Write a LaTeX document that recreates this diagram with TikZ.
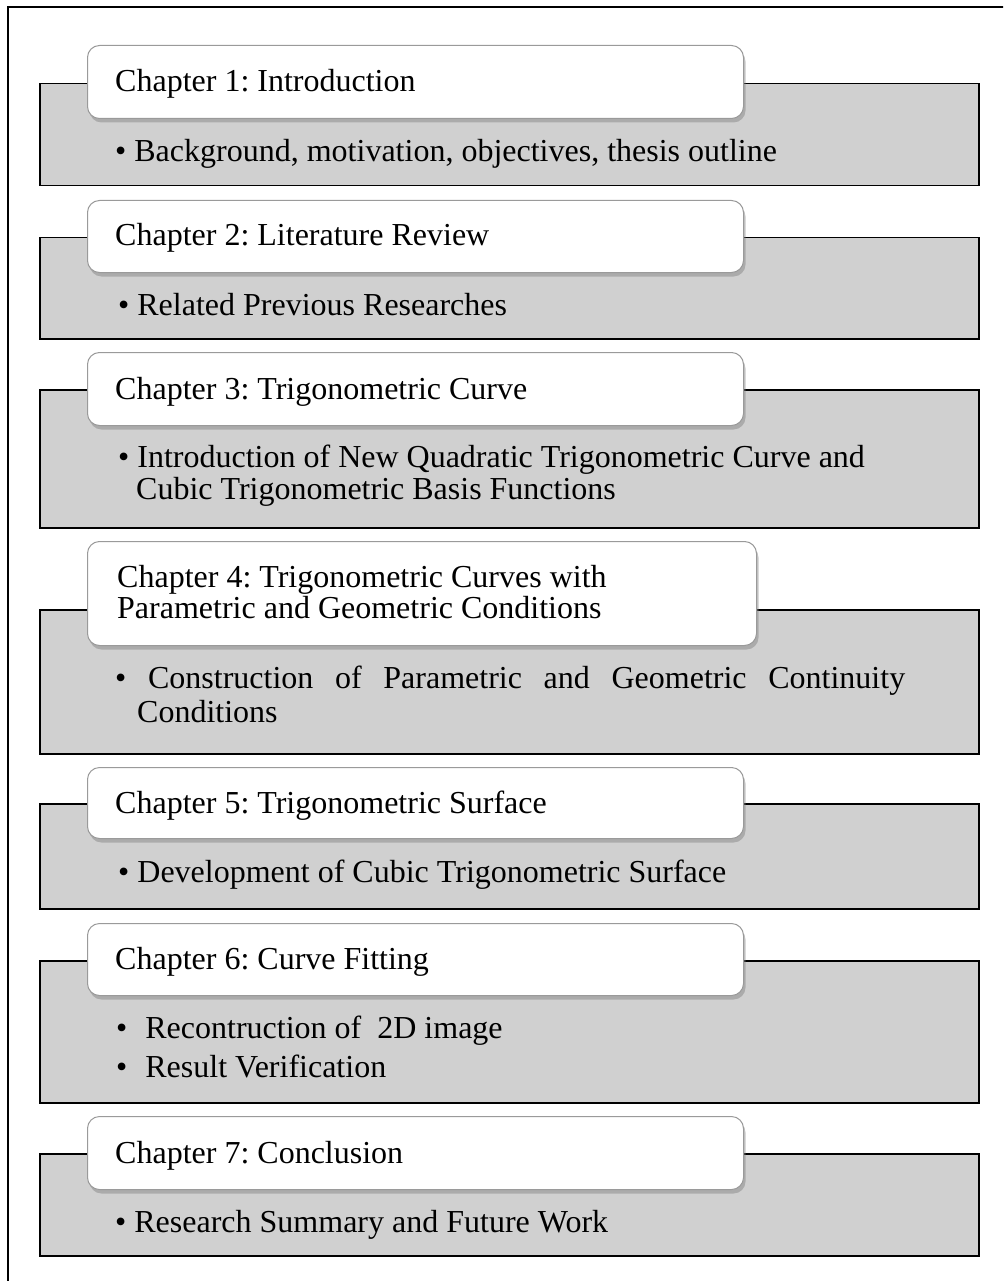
\documentclass[tikz,border=0pt]{standalone}
\usepackage{fontspec}
\setmainfont{Liberation Serif}
\usetikzlibrary{shadows}
\definecolor{boxgray}{HTML}{D0D0D0}
\definecolor{edgegray}{HTML}{9A9A9A}
\frenchspacing
\begin{document}
\begin{tikzpicture}[x=1pt, y=-1pt]
    \useasboundingbox (0,0) rectangle (1003,1281);
    \clip (0,0) rectangle (1003,1281);
    \draw [line width=2pt] (1020,7) -- (8,7) -- (8,1300);

    \begin{scope}[every node/.style={rectangle, fill=boxgray, draw=black, line width=1.5pt, anchor=north west, minimum width=939pt, inner sep=0pt}]
        \node (b1) at (39,83) [minimum height=102pt] {};
        \node (b2) at (39,237) [minimum height=101pt] {};
        \node (b3) at (39,389) [minimum height=138pt] {};
        \node (b4) at (39,609) [minimum height=144pt] {};
        \node (b5) at (39,803) [minimum height=105pt] {};
        \node (b6) at (39,960) [minimum height=142pt] {};
        \node (b7) at (39,1153) [minimum height=102pt] {};
    \end{scope}

    \begin{scope}[every node/.style={rectangle, rounded corners=12pt, fill=white, draw=edgegray, line width=1pt, anchor=north west, minimum width=656pt, inner sep=0pt, drop shadow={shadow xshift=2pt, shadow yshift=-4pt, opacity=0.45}}]
        \node (w1) at (87,45) [minimum height=73pt] {};
        \node (w2) at (87,200) [minimum height=72pt] {};
        \node (w3) at (87,352) [minimum height=73pt] {};
        \node (w4) at (87,541) [minimum height=104pt, minimum width=669pt] {};
        \node (w5) at (87,767) [minimum height=71pt] {};
        \node (w6) at (87,923) [minimum height=72pt] {};
        \node (w7) at (87,1116) [minimum height=73pt] {};
    \end{scope}

    \begin{scope}[every node/.style={anchor=base west, inner sep=0pt, font=\fontsize{32pt}{32pt}\selectfont}]
        \node (c1) at (115,92) {Chapter 1: Introduction};
        \node (l1) at (115,162) {\textbullet\ Background, motivation, objectives, thesis outline};

        \node (c2) at (115,246) {Chapter 2: Literature Review};
        \node (l2) at (118,315) {\textbullet\ Related Previous Researches};

        \node (c3) at (115,399) {Chapter 3: Trigonometric Curve};
        \node (l3a) at (118,467) {\textbullet\ Introduction of New Quadratic Trigonometric Curve and};
        \node (l3b) at (136,499) {Cubic Trigonometric Basis Functions};

        \node (c4a) at (117,587) {Chapter 4: Trigonometric Curves with};
        \node (c4b) at (117,618) {Parametric and Geometric Conditions};
        \node (l4a) at (115,688) {\makebox[790pt][s]{\textbullet\ Construction of Parametric and Geometric Continuity}};
        \node (l4b) at (137,722) {Conditions};

        \node (c5) at (115,813) {Chapter 5: Trigonometric Surface};
        \node (l5) at (118,882) {\textbullet\ Development of Cubic Trigonometric Surface};

        \node (c6) at (115,969) {Chapter 6: Curve Fitting};
        \node (l6a) at (116,1038) {\textbullet\hspace{18pt}Recontruction of\ \ 2D image};
        \node (l6b) at (116,1077) {\textbullet\hspace{18pt}Result Verification};

        \node (c7) at (115,1163) {Chapter 7: Conclusion};
        \node (l7) at (115,1232) {\textbullet\ Research Summary and Future Work};
    \end{scope}
\end{tikzpicture}
\end{document}
